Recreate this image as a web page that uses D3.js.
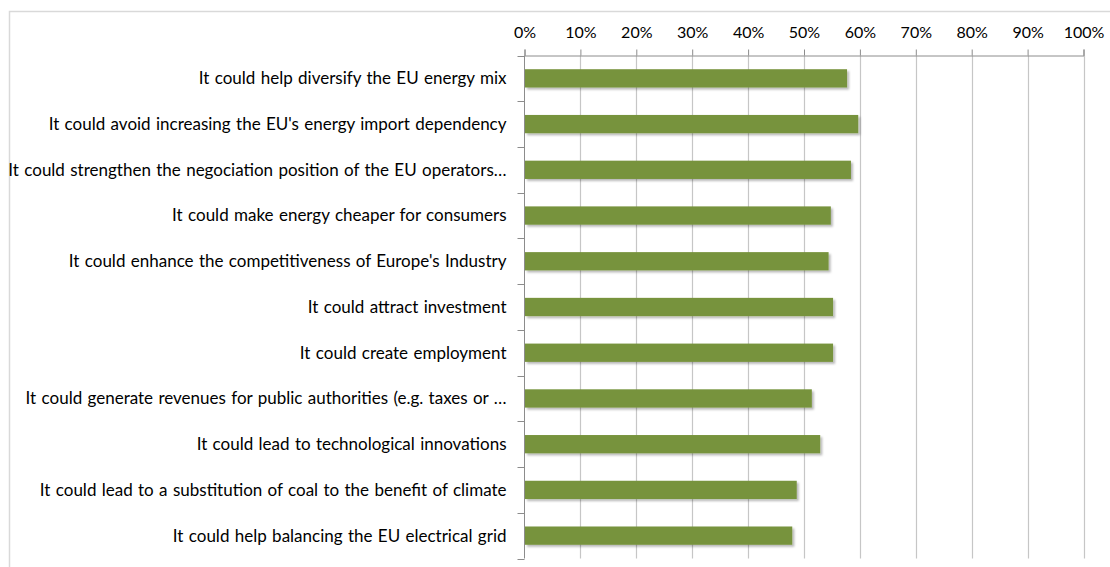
<!DOCTYPE html>
<html>
<head>
<meta charset="utf-8">
<script src="https://cdn.jsdelivr.net/npm/d3@7"></script>
<style>
  html, body { margin: 0; padding: 0; background: #fff; }
  svg { display: block; }
  text { font-family: Lato, "Open Sans", sans-serif; fill: #000; }
</style>
</head>
<body>
<svg id="chart" width="1110" height="567"></svg>
<script>
// Perceived benefits (share of respondents)
const categories = [
  "It could help diversify the EU energy mix",
  "It could avoid increasing the EU's energy import dependency",
  "It could strengthen the negociation position of the EU operators…",
  "It could make energy cheaper for consumers",
  "It could enhance the competitiveness of Europe's Industry",
  "It could attract investment",
  "It could create employment",
  "It could generate revenues for public authorities (e.g. taxes or …",
  "It could lead to technological innovations",
  "It could lead to a substitution of coal to the benefit of climate",
  "It could help balancing the EU electrical grid"
];
const values = [0.577, 0.597, 0.584, 0.548, 0.544, 0.552, 0.552, 0.514, 0.529, 0.487, 0.479];
const tickValues = [0, 0.1, 0.2, 0.3, 0.4, 0.5, 0.6, 0.7, 0.8, 0.9, 1.0];

const svg = d3.select("#chart");
const W = 1110, H = 567;
const plot = { left: 524.5, right: 1083.5, top: 55.5, bottom: 558.5 };

// chart frame
svg.append("path")
  .attr("d", `M9.5,${H + 5}V11.5H${W + 5}`)
  .attr("fill", "none")
  .attr("stroke", "#d9d9d9")
  .attr("stroke-width", 1.5);

const defs = svg.append("defs");
const f = defs.append("filter").attr("id", "shadow")
  .attr("x", "-5%").attr("y", "-30%").attr("width", "115%").attr("height", "180%");
f.append("feDropShadow")
  .attr("dx", 2).attr("dy", 2).attr("stdDeviation", 1.2)
  .attr("flood-color", "#000").attr("flood-opacity", 0.28);

const x = d3.scaleLinear().domain([0, 1]).range([plot.left, plot.right]);
const y = d3.scaleBand().domain(categories).range([plot.top, plot.bottom])
  .paddingInner(0.6).paddingOuter(0.3);
const yEdges = d3.scaleLinear().domain([0, categories.length]).range([plot.top, plot.bottom]);

// vertical gridlines
svg.append("g").selectAll("line")
  .data(tickValues.slice(1))
  .join("line")
  .attr("x1", d => Math.round(x(d)) + 0.5).attr("x2", d => Math.round(x(d)) + 0.5)
  .attr("y1", plot.top).attr("y2", plot.bottom)
  .attr("stroke", "#c6c6c6").attr("stroke-width", 1.2);

// top axis
const xAxis = d3.axisTop(x)
  .tickValues(tickValues)
  .tickFormat(d3.format(".0%"))
  .tickSize(6)
  .tickSizeOuter(6)
  .tickPadding(12);
const gx = svg.append("g")
  .attr("transform", `translate(0,${plot.top})`)
  .call(xAxis);
gx.select(".domain").attr("stroke", "#8c8c8c");
gx.selectAll(".tick line").attr("stroke", "#8c8c8c");
gx.selectAll(".tick text")
  .attr("font-size", 16)
  .attr("font-family", "Lato, 'Open Sans', sans-serif")
  .attr("fill", "#000");

// left category axis
svg.append("line")
  .attr("x1", plot.left).attr("x2", plot.left)
  .attr("y1", plot.top).attr("y2", plot.bottom)
  .attr("stroke", "#8c8c8c");
svg.append("g").selectAll("line")
  .data(d3.range(categories.length + 1))
  .join("line")
  .attr("x1", plot.left - 7).attr("x2", plot.left)
  .attr("y1", d => Math.round(yEdges(d)) + 0.5).attr("y2", d => Math.round(yEdges(d)) + 0.5)
  .attr("stroke", "#8c8c8c");

// bars
svg.append("g").selectAll("rect")
  .data(values)
  .join("rect")
  .attr("x", x(0) + 0.5)
  .attr("y", (d, i) => y(categories[i]))
  .attr("width", d => x(d) - x(0) - 0.5)
  .attr("height", y.bandwidth())
  .attr("fill", "#77933c")
  .attr("filter", "url(#shadow)");

// category labels
svg.append("g").selectAll("text")
  .data(categories)
  .join("text")
  .attr("x", plot.left - 18)
  .attr("y", d => y(d) + y.bandwidth() / 2)
  .attr("dy", "0.35em")
  .attr("text-anchor", "end")
  .attr("font-size", 17)
  .attr("word-spacing", 1)
  .text(d => d);
</script>
</body>
</html>
